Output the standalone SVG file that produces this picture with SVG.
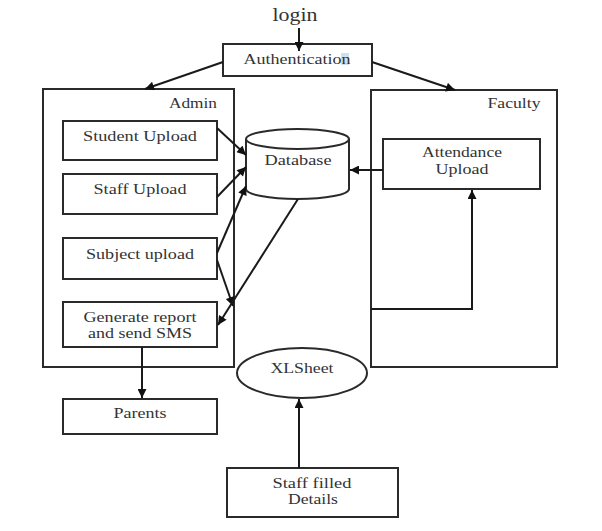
<svg xmlns="http://www.w3.org/2000/svg" width="602" height="531" viewBox="0 0 602 531">
<style>
.box{fill:#fff;stroke:#2a2a2a;stroke-width:2}
.cont{fill:none;stroke:#2a2a2a;stroke-width:2}
.lbl{font-family:"Liberation Serif","Times New Roman",serif;font-size:14.5px;fill:#333;text-anchor:middle}
.edge{fill:none;stroke:#1a1a1a;stroke-width:2;marker-end:url(#arr)}
</style>
<defs>
<marker id="arr" viewBox="0 0 10 10" refX="10" refY="5" markerWidth="10" markerHeight="9" markerUnits="userSpaceOnUse" orient="auto">
<path d="M0,0 L10,5 L0,10 z" fill="#111"/>
</marker>
</defs>
<rect width="602" height="531" fill="#fff"/>

<g id="login"><text class="lbl" x="295" y="21" style="font-size:19px" textLength="45" lengthAdjust="spacingAndGlyphs">login</text></g>

<g id="authentication">
<rect class="box" x="223" y="44" width="149" height="32"/>
<rect x="341" y="53" width="8" height="12" fill="#cfe0ee"/>
<text class="lbl" x="297" y="64" style="font-size:15px" textLength="107" lengthAdjust="spacingAndGlyphs">Authentication</text>
</g>

<g id="admin">
<rect class="cont" x="43" y="89" width="191" height="278"/>
<text class="lbl" x="193" y="108" textLength="48" lengthAdjust="spacingAndGlyphs">Admin</text>
</g>

<g id="faculty">
<rect class="cont" x="371" y="90" width="186" height="277"/>
<text class="lbl" x="514" y="108" textLength="53" lengthAdjust="spacingAndGlyphs">Faculty</text>
</g>

<g id="student-upload">
<rect class="box" x="63" y="121" width="154" height="39"/>
<text class="lbl" x="140" y="141" textLength="114" lengthAdjust="spacingAndGlyphs">Student Upload</text>
</g>

<g id="staff-upload">
<rect class="box" x="63" y="174" width="154" height="40"/>
<text class="lbl" x="140" y="194" textLength="93" lengthAdjust="spacingAndGlyphs">Staff Upload</text>
</g>

<g id="subject-upload">
<rect class="box" x="63" y="238" width="154" height="41"/>
<text class="lbl" x="140" y="259" textLength="108" lengthAdjust="spacingAndGlyphs">Subject upload</text>
</g>

<g id="generate-report">
<rect class="box" x="63" y="302" width="154" height="45"/>
<text class="lbl" x="140" y="322" textLength="113" lengthAdjust="spacingAndGlyphs">Generate report</text>
<text class="lbl" x="140" y="338" textLength="104" lengthAdjust="spacingAndGlyphs">and send SMS</text>
</g>

<g id="parents">
<rect class="box" x="63" y="399" width="154" height="35"/>
<text class="lbl" x="140" y="418" textLength="53" lengthAdjust="spacingAndGlyphs">Parents</text>
</g>

<g id="database">
<path d="M246,139 L246,189 A51.5,10 0 0 0 349,189 L349,139" fill="#fff" stroke="#2a2a2a" stroke-width="2"/>
<ellipse cx="297.5" cy="139" rx="51.5" ry="10" fill="#fff" stroke="#2a2a2a" stroke-width="2"/>
<text class="lbl" x="298" y="165" textLength="67" lengthAdjust="spacingAndGlyphs">Database</text>
</g>

<g id="attendance-upload">
<rect class="box" x="383" y="139" width="157" height="50"/>
<text class="lbl" x="462" y="157" textLength="80" lengthAdjust="spacingAndGlyphs">Attendance</text>
<text class="lbl" x="462" y="174" textLength="53" lengthAdjust="spacingAndGlyphs">Upload</text>
</g>

<g id="xlsheet">
<ellipse cx="302" cy="373" rx="65" ry="25" fill="#fff" stroke="#2a2a2a" stroke-width="2"/>
<text class="lbl" x="302" y="373" textLength="63" lengthAdjust="spacingAndGlyphs">XLSheet</text>
</g>

<g id="staff-filled-details">
<rect class="box" x="227" y="468" width="171" height="49"/>
<text class="lbl" x="312" y="488" textLength="79" lengthAdjust="spacingAndGlyphs">Staff filled</text>
<text class="lbl" x="313" y="504" textLength="50" lengthAdjust="spacingAndGlyphs">Details</text>
</g>

<g id="connectors">
<line class="edge" x1="299" y1="28" x2="299" y2="51"/>
<line class="edge" x1="223" y1="62" x2="145" y2="89"/>
<line class="edge" x1="372" y1="62" x2="455" y2="90"/>
<line class="edge" x1="217" y1="128" x2="246" y2="155"/>
<line class="edge" x1="217" y1="197" x2="246" y2="167"/>
<line class="edge" x1="217" y1="253" x2="246" y2="186"/>
<line class="edge" x1="217" y1="260" x2="233" y2="306"/>
<line class="edge" x1="298" y1="199" x2="218" y2="325"/>
<line class="edge" x1="383" y1="170" x2="350" y2="170"/>
<polyline class="edge" points="371,309 472,309 472,190"/>
<line class="edge" x1="142" y1="347" x2="142" y2="398"/>
<line class="edge" x1="299" y1="468" x2="299" y2="399"/>
</g>
</svg>
